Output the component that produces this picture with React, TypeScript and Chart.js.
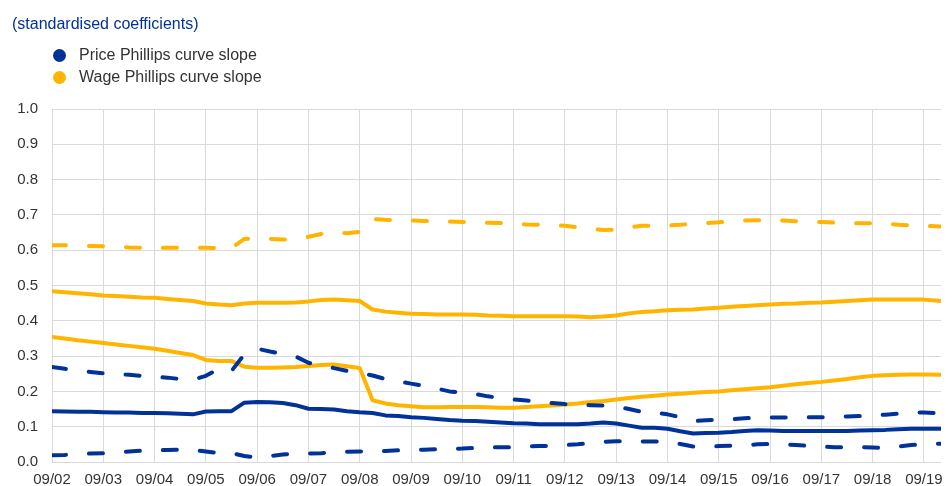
import React, { useEffect, useRef } from "react";
import { Chart, registerables } from "chart.js";

Chart.register(...registerables);

// x positions: months since September 2002
const months = [
  0, 3, 6, 9, 12, 15, 18, 21, 24, 27, 30, 33, 36, 39, 42, 45, 48, 51, 54, 57,
  60, 63, 66, 69, 72, 75, 78, 81, 84, 87, 90, 93, 96, 99, 102, 105, 108, 111, 114, 117,
  120, 123, 126, 129, 132, 135, 138, 141, 144, 147, 150, 153, 156, 159, 162, 165, 168, 171, 174, 177,
  180, 183, 186, 189, 192, 195, 198, 201, 204, 208,
];

const yearLabels = [
  "09/02", "09/03", "09/04", "09/05", "09/06", "09/07", "09/08", "09/09", "09/10",
  "09/11", "09/12", "09/13", "09/14", "09/15", "09/16", "09/17", "09/18", "09/19",
];

const priceSlope = [
  0.144, 0.143, 0.142, 0.142, 0.141, 0.140, 0.140, 0.139, 0.139, 0.138, 0.137, 0.135, 0.143, 0.144, 0.144, 0.168, 0.170, 0.169, 0.167, 0.161,
  0.151, 0.150, 0.149, 0.144, 0.141, 0.139, 0.132, 0.130, 0.127, 0.125, 0.122, 0.119, 0.117, 0.116, 0.114, 0.112, 0.110, 0.109, 0.107, 0.107,
  0.107, 0.107, 0.109, 0.112, 0.109, 0.103, 0.097, 0.097, 0.094, 0.087, 0.081, 0.082, 0.083, 0.085, 0.088, 0.090, 0.089, 0.088, 0.088, 0.088,
  0.088, 0.088, 0.088, 0.089, 0.090, 0.091, 0.093, 0.094, 0.094, 0.094,
];

const priceUpper = [
  0.269, 0.264, 0.259, 0.255, 0.251, 0.249, 0.247, 0.244, 0.241, 0.239, 0.235, 0.233, 0.244, 0.264, 0.258, 0.305, 0.321, 0.313, 0.306, 0.299,
  0.281, 0.273, 0.266, 0.258, 0.253, 0.245, 0.235, 0.229, 0.222, 0.216, 0.208, 0.200, 0.196, 0.193, 0.186, 0.181, 0.177, 0.174, 0.170, 0.167,
  0.164, 0.162, 0.161, 0.160, 0.157, 0.150, 0.142, 0.140, 0.135, 0.127, 0.116, 0.118, 0.120, 0.121, 0.124, 0.125, 0.126, 0.126, 0.127, 0.127,
  0.127, 0.128, 0.129, 0.130, 0.132, 0.134, 0.137, 0.140, 0.140, 0.138,
];

const priceLower = [
  0.019, 0.020, 0.022, 0.024, 0.025, 0.027, 0.030, 0.032, 0.033, 0.034, 0.035, 0.034, 0.030, 0.025, 0.025, 0.017, 0.013, 0.017, 0.021, 0.024,
  0.024, 0.025, 0.027, 0.029, 0.030, 0.030, 0.031, 0.033, 0.034, 0.035, 0.036, 0.037, 0.038, 0.040, 0.041, 0.042, 0.042, 0.044, 0.045, 0.046,
  0.048, 0.050, 0.054, 0.057, 0.059, 0.059, 0.058, 0.058, 0.058, 0.051, 0.044, 0.044, 0.045, 0.046, 0.047, 0.050, 0.051, 0.050, 0.048, 0.046,
  0.044, 0.042, 0.042, 0.042, 0.041, 0.040, 0.044, 0.048, 0.050, 0.052,
];

const wageSlope = [
  0.484, 0.481, 0.478, 0.475, 0.472, 0.470, 0.468, 0.466, 0.465, 0.462, 0.459, 0.456, 0.449, 0.446, 0.444, 0.449, 0.451, 0.451, 0.451, 0.452,
  0.455, 0.459, 0.460, 0.458, 0.456, 0.432, 0.426, 0.423, 0.420, 0.419, 0.418, 0.418, 0.418, 0.417, 0.415, 0.414, 0.413, 0.413, 0.413, 0.413,
  0.413, 0.412, 0.410, 0.412, 0.415, 0.421, 0.425, 0.427, 0.430, 0.431, 0.432, 0.435, 0.437, 0.440, 0.442, 0.444, 0.446, 0.448, 0.449, 0.451,
  0.452, 0.454, 0.456, 0.458, 0.460, 0.460, 0.460, 0.460, 0.460, 0.456,
];

const wageSecond = [
  0.354, 0.350, 0.345, 0.341, 0.337, 0.333, 0.329, 0.325, 0.321, 0.315, 0.309, 0.303, 0.289, 0.286, 0.286, 0.270, 0.267, 0.267, 0.268, 0.269,
  0.272, 0.275, 0.276, 0.271, 0.266, 0.175, 0.166, 0.161, 0.158, 0.155, 0.155, 0.156, 0.156, 0.156, 0.155, 0.154, 0.154, 0.156, 0.158, 0.160,
  0.163, 0.166, 0.170, 0.173, 0.177, 0.181, 0.185, 0.188, 0.191, 0.193, 0.196, 0.198, 0.200, 0.203, 0.206, 0.209, 0.212, 0.216, 0.220, 0.224,
  0.227, 0.231, 0.235, 0.240, 0.244, 0.246, 0.247, 0.248, 0.248, 0.247,
];

const wageUpper = [
  0.614, 0.614, 0.613, 0.612, 0.611, 0.610, 0.608, 0.607, 0.606, 0.607, 0.607, 0.607, 0.607, 0.606, 0.606, 0.632, 0.634, 0.632, 0.630, 0.631,
  0.638, 0.646, 0.650, 0.648, 0.652, 0.688, 0.686, 0.685, 0.684, 0.683, 0.682, 0.681, 0.680, 0.679, 0.678, 0.677, 0.675, 0.673, 0.672, 0.671,
  0.669, 0.665, 0.660, 0.657, 0.658, 0.665, 0.669, 0.670, 0.670, 0.672, 0.675, 0.677, 0.679, 0.682, 0.684, 0.685, 0.685, 0.684, 0.682, 0.681,
  0.680, 0.678, 0.677, 0.676, 0.676, 0.675, 0.672, 0.670, 0.669, 0.667,
];

const BLUE = "#003299";
const YELLOW = "#FFB400";
const GRID = "#d9d9d9";
const TEXT = "#333333";
const FONT = "Arial, 'Liberation Sans', Helvetica, sans-serif";

function pts(values: number[]) {
  return values.map((v, i) => ({ x: months[i], y: v }));
}

function line(values: number[], color: string, dashed: boolean) {
  return {
    data: pts(values),
    borderColor: color,
    backgroundColor: color,
    borderWidth: 4,
    pointRadius: 0,
    tension: 0,
    fill: false,
    borderDash: dashed ? [14, 23] : [],
    borderCapStyle: dashed ? "round" : "butt",
    borderJoinStyle: "round",
  } as any;
}

export default function App() {
  const ref = useRef<HTMLCanvasElement | null>(null);

  useEffect(() => {
    if (!ref.current) return;
    const chart = new Chart(ref.current, {
      type: "line",
      data: {
        datasets: [
          line(priceSlope, BLUE, false),
          line(priceUpper, BLUE, true),
          line(priceLower, BLUE, true),
          line(wageSlope, YELLOW, false),
          line(wageSecond, YELLOW, false),
          line(wageUpper, YELLOW, true),
        ],
      },
      options: {
        animation: false,
        responsive: false,
        maintainAspectRatio: false,
        layout: { padding: { left: 0, top: 109, right: 6, bottom: 0 } },
        plugins: {
          legend: { display: false },
          tooltip: { enabled: false },
          title: { display: false },
        },
        scales: {
          x: {
            type: "linear",
            min: 0,
            max: 208,
            afterFit: (s: any) => {
              s.height = 24;
              s.paddingLeft = 0;
              s.paddingRight = 0;
            },
            grid: { color: GRID, lineWidth: 1, drawTicks: false },
            border: { display: false },
            ticks: {
              stepSize: 12,
              includeBounds: false,
              autoSkip: false,
              maxRotation: 0,
              padding: 9,
              color: TEXT,
              font: { family: FONT, size: 15 },
              callback: (v: any) => {
                const n = Number(v);
                if (n % 12 !== 0) return null;
                return yearLabels[n / 12] ?? null;
              },
            },
          },
          y: {
            min: 0,
            max: 1,
            afterFit: (s: any) => {
              s.width = 52;
              s.paddingTop = 0;
              s.paddingBottom = 0;
            },
            grid: { color: GRID, lineWidth: 1, drawTicks: false },
            border: { display: false },
            ticks: {
              stepSize: 0.1,
              padding: 14,
              color: TEXT,
              font: { family: FONT, size: 15 },
              callback: (v: any) => Number(v).toFixed(1),
            },
          },
        },
      } as any,
    });
    return () => chart.destroy();
  }, []);

  const legendRow = (top: number, color: string, label: string) => (
    <div
      style={{
        position: "absolute",
        left: 53,
        top,
        height: 18,
        display: "flex",
        alignItems: "center",
        fontFamily: FONT,
        fontSize: 16,
        color: TEXT,
        whiteSpace: "nowrap",
      }}
    >
      <span
        style={{
          display: "inline-block",
          width: 13,
          height: 13,
          borderRadius: "50%",
          background: color,
          marginRight: 13,
        }}
      />
      <span>{label}</span>
    </div>
  );

  return (
    <div
      style={{
        position: "fixed",
        left: 0,
        top: 0,
        width: 947,
        height: 486,
        background: "#ffffff",
      }}
    >
      <canvas ref={ref} width={947} height={486} style={{ position: "absolute", left: 0, top: 0 }} />
      <div
        style={{
          position: "absolute",
          left: 12,
          top: 15,
          fontFamily: FONT,
          fontSize: 16,
          lineHeight: "18px",
          color: BLUE,
          whiteSpace: "nowrap",
        }}
      >
        (standardised coefficients)
      </div>
      {legendRow(46, BLUE, "Price Phillips curve slope")}
      {legendRow(68, YELLOW, "Wage Phillips curve slope")}
    </div>
  );
}
